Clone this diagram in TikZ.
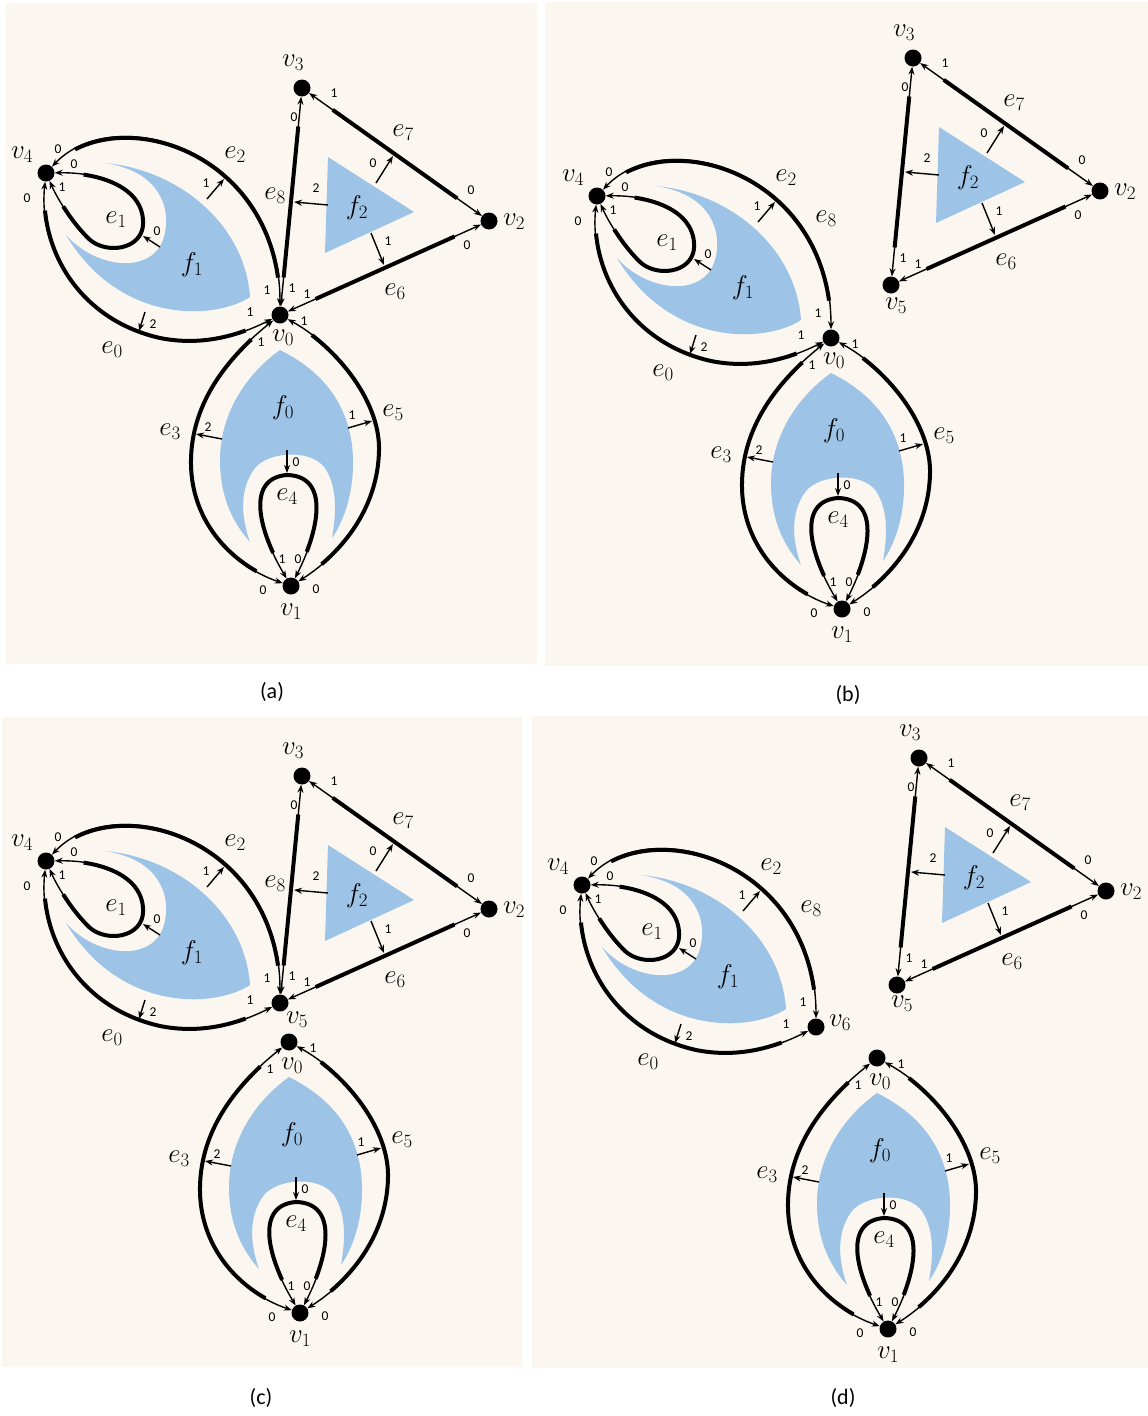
\RequirePackage{fix-cm}
\documentclass[tikz,border=0pt]{standalone}
\usepackage{fontspec}
\setmainfont{Carlito}
\usetikzlibrary{arrows.meta,decorations.pathmorphing}
\definecolor{panelbg}{RGB}{251,247,240}
\definecolor{faceblue}{RGB}{157,195,230}
\tikzset{
  >={Stealth[length=8pt,width=6pt]},
  vertex/.style={circle,fill=black,minimum size=17pt,inner sep=0pt},
  vlab/.style={font=\fontsize{27}{29}\selectfont,inner sep=0pt},
  elab/.style={vlab},
  flab/.style={vlab},
  numlab/.style={font=\fontsize{13.5}{15}\selectfont,inner sep=0pt},
  caplab/.style={font=\fontsize{22}{26}\selectfont,inner sep=0pt},
  halfedge/.style={
    line width=1.4pt,<->,
    postaction={draw,decorate,line width=4pt,arrows=-,
      decoration={curveto,pre=moveto,pre length=29pt,
        post=moveto,post length=29pt}}
  },
  facearrow/.style={line width=1.4pt,->},
  face/.style={fill=faceblue,draw=none},
  panel/.style={fill=panelbg,draw=none},
}

% left part: f1 with v4 and the loops e0, e1, e2
\newcommand{\leftpart}[3]{%
  \fill[face] (105,163) .. controls (180,170) and (245,225) .. (250,297)
    .. controls (215,320) and (120,325) .. (66,235)
    .. controls (95,268) and (150,275) .. (163,240)
    .. controls (172,215) and (165,172) .. (105,163) -- cycle;
  \node[flab] (#1f1) at (192,265) {$f_1$};
  \node[vertex] (#1v4) at (46,173) {};
  \node[vlab] (#1v4l) at (22,155) {$v_4$};
  \draw[halfedge] (#1v4) .. controls (115,100) and (280,150) .. (#2);
  \draw[halfedge] (#1v4) .. controls (105,172) and (145,190) .. (143,225)
    .. controls (141,250) and (105,255) .. (88,238)
    .. controls (72,222) and (58,200) .. (#1v4);
  \draw[halfedge] (#1v4) .. controls (38,250) and (80,320) .. (160,338)
    .. controls (210,348) and (250,330) .. (#2);
  \node[elab] (#1e0) at (112,350) {$e_0$};
  \node[elab] (#1e1) at (116,220) {$e_1$};
  \node[elab] (#1e2) at (235,155) {$e_2$};
  #3
  \coordinate (#1p0) at (160,247); \coordinate (#1q0) at (143,236);
  \coordinate (#1p1) at (207,199); \coordinate (#1q1) at (224,179);
  \coordinate (#1p2) at (145,312); \coordinate (#1q2) at (139,331);
  \draw[facearrow] (#1p0) -- (#1q0);
  \draw[facearrow] (#1p1) -- (#1q1);
  \draw[facearrow] (#1p2) -- (#1q2);
  \foreach \p/\t/\n in {{58,149}/0/e2a,{267,290}/1/e2b,{74,164}/0/e1a,
      {62,187}/1/e1b,{27,198}/0/e0a,{250,312}/1/e0b,
      {157,231}/0/f1a,{206,183}/1/f1b,{153,324}/2/f1c}
    \node[numlab] (#1\n) at (\p) {\t};
}

% triangle part: f2 with v3, v2 and the edges e6, e7, e8
\newcommand{\trianglepart}[3]{%
  \fill[face] (328,157) -- (414,212) -- (325,253) -- cycle;
  \node[flab] (#1f2) at (357,208) {$f_2$};
  \node[vertex] (#1v3) at (302,88) {};
  \node[vlab] (#1v3l) at (293,63) {$v_3$};
  \node[vertex] (#1v2) at (489,221) {};
  \node[vlab] (#1v2l) at (514,222) {$v_2$};
  \draw[halfedge] (#2) -- (#1v3);
  \draw[halfedge] (#1v3) -- (#1v2);
  \draw[halfedge] (#1v2) -- (#2);
  \node[elab] (#1e7) at (403,133) {$e_7$};
  \node[elab] (#1e6) at (395,292) {$e_6$};
  #3
  \coordinate (#1p3) at (328,205); \coordinate (#1q3) at (294,202);
  \coordinate (#1p4) at (376,183); \coordinate (#1q4) at (393,156);
  \coordinate (#1p5) at (371,233); \coordinate (#1q5) at (384,265);
  \draw[facearrow] (#1p3) -- (#1q3);
  \draw[facearrow] (#1p4) -- (#1q4);
  \draw[facearrow] (#1p5) -- (#1q5);
  \foreach \p/\t/\n in {{294,117}/0/e8a,{292,288}/1/e8b,{334,93}/1/e7a,
      {471,190}/0/e7b,{467,245}/0/e6a,{307,294}/1/e6b,
      {316,188}/2/f2a,{373,163}/0/f2b,{388,241}/1/f2c}
    \node[numlab] (#1\n) at (\p) {\t};
}

% bottom part: f0 with v1 and the edges e3, e4, e5
\newcommand{\bottompart}[2]{%
  \fill[face] (280,350) .. controls (245,375) and (220,415) .. (220,460)
    .. controls (220,500) and (235,525) .. (250,542)
    .. controls (242,520) and (238,490) .. (255,468)
    .. controls (268,452) and (310,448) .. (325,468)
    .. controls (338,488) and (336,515) .. (332,538)
    .. controls (348,515) and (356,480) .. (352,445)
    .. controls (346,400) and (320,370) .. (280,350) -- cycle;
  \node[flab] (#1f0) at (283,408) {$f_0$};
  \node[vertex] (#1v1) at (291,586) {};
  \node[vlab] (#1v1l) at (291,612) {$v_1$};
  \draw[halfedge] (#2) .. controls (230,355) and (192,400) .. (191,460)
    .. controls (190,520) and (230,565) .. (#1v1);
  \draw[halfedge] (#2) .. controls (335,345) and (380,400) .. (379,450)
    .. controls (378,510) and (340,555) .. (#1v1);
  \draw[halfedge] (#1v1) .. controls (255,525) and (248,478) .. (287,475)
    .. controls (328,476) and (322,525) .. (#1v1);
  \node[elab] (#1e3) at (170,432) {$e_3$};
  \node[elab] (#1e5) at (393,413) {$e_5$};
  \node[elab] (#1e4) at (287,497) {$e_4$};
  \coordinate (#1p6) at (222,439); \coordinate (#1q6) at (196,434);
  \coordinate (#1p7) at (348,428); \coordinate (#1q7) at (372,421);
  \coordinate (#1p8) at (287,450); \coordinate (#1q8) at (287,473);
  \draw[facearrow] (#1p6) -- (#1q6);
  \draw[facearrow] (#1p7) -- (#1q7);
  \draw[facearrow] (#1p8) -- (#1q8);
  \foreach \p/\t/\n in {{261,342}/1/e3a,{263,590}/0/e3b,{304,321}/1/e5a,
      {316,589}/0/e5b,{282,559}/1/e4a,{298,559}/0/e4b,
      {208,427}/2/f0a,{352,415}/1/f0b,{296,462}/0/f0c}
    \node[numlab] (#1\n) at (\p) {\t};
}

\begin{document}
\begin{tikzpicture}[x=1pt,y=-1pt]
  \useasboundingbox (0,0) rectangle (1148,1416);
  \fill[panel] (6,3) rectangle (537,664);
  \fill[panel] (545,2) rectangle (1148,666);
  \fill[panel] (2,717) rectangle (522,1367);
  \fill[panel] (532,716) rectangle (1148,1368);

  % (a)
  \node[vertex] (av0) at (280,315) {};
  \node[vlab] (av0l) at (283,338) {$v_0$};
  \leftpart{a}{av0}{}
  \trianglepart{a}{av0}{\node[elab] (ae8) at (275,196) {$e_8$};}
  \bottompart{a}{av0}
  \node[caplab] (capa) at (272,692) {(a)};

  % (b)
  \begin{scope}[shift={(551,23)}]
    \node[vertex] (bv0) at (280,315) {};
    \node[vlab] (bv0l) at (283,338) {$v_0$};
    \leftpart{b}{bv0}{\node[elab] (be8) at (275,196) {$e_8$};}
    \bottompart{b}{bv0}
  \end{scope}
  \begin{scope}[shift={(611,-30)}]
    \node[vertex] (bv5) at (280,315) {};
    \node[vlab] (bv5l) at (285,336) {$v_5$};
    \trianglepart{b}{bv5}{}
  \end{scope}
  \node[caplab] (capb) at (848,695) {(b)};

  % (c)
  \begin{scope}[shift={(0,688)}]
    \node[vertex] (cv5) at (280,315) {};
    \node[vlab] (cv5l) at (297,332) {$v_5$};
    \leftpart{c}{cv5}{}
    \trianglepart{c}{cv5}{\node[elab] (ce8) at (275,196) {$e_8$};}
  \end{scope}
  \begin{scope}[shift={(9,727)}]
    \node[vertex] (cv0) at (280,315) {};
    \node[vlab] (cv0l) at (283,339) {$v_0$};
    \bottompart{c}{cv0}
  \end{scope}
  \node[caplab] (capc) at (261,1398) {(c)};

  % (d)
  \begin{scope}[shift={(536,712)}]
    \node[vertex] (dv6) at (280,315) {};
    \node[vlab] (dv6l) at (304,311) {$v_6$};
    \leftpart{d}{dv6}{\node[elab] (de8) at (275,197) {$e_8$};}
  \end{scope}
  \begin{scope}[shift={(617,670)}]
    \node[vertex] (dv5) at (280,315) {};
    \node[vlab] (dv5l) at (285,334) {$v_5$};
    \trianglepart{d}{dv5}{}
  \end{scope}
  \begin{scope}[shift={(597,743)}]
    \node[vertex] (dv0) at (280,315) {};
    \node[vlab] (dv0l) at (283,339) {$v_0$};
    \bottompart{d}{dv0}
  \end{scope}
  \node[caplab] (capd) at (843,1398) {(d)};
\end{tikzpicture}
\end{document}
